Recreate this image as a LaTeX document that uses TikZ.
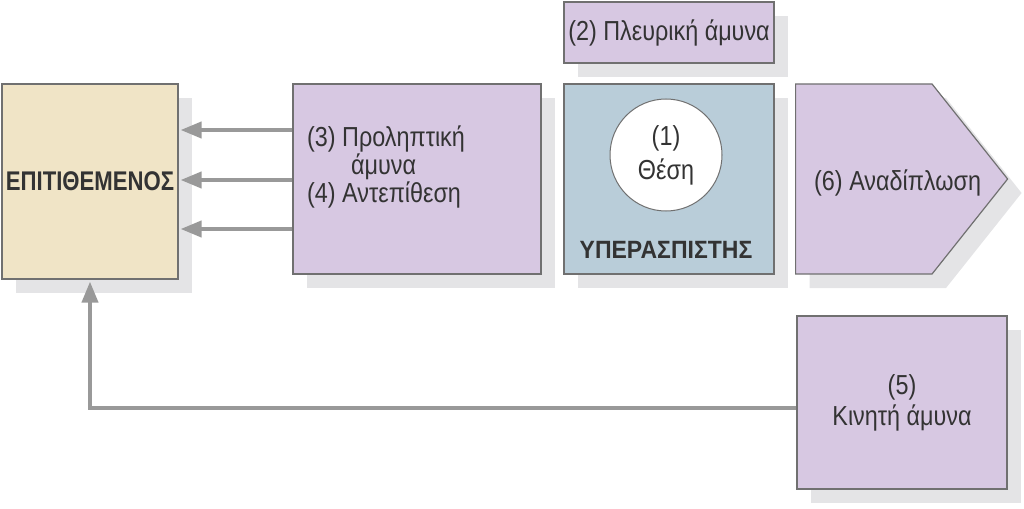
\documentclass[tikz,border=0pt]{standalone}
\usepackage{fontspec}
\setmainfont{Liberation Sans}[FakeStretch=0.85]
\newfontfamily\narrowA{Liberation Sans}[FakeStretch=0.82]
\newfontfamily\narrowB{Liberation Sans}[FakeStretch=0.92]
\usetikzlibrary{arrows.meta, positioning, shadows, shapes.symbols}
\definecolor{attackfill}{HTML}{F0E4C6}
\definecolor{lavender}{HTML}{D7C8E2}
\definecolor{defendfill}{HTML}{B9CDD9}
\definecolor{shade}{HTML}{E4E4E6}
\definecolor{edge}{HTML}{707070}
\definecolor{arrowgray}{HTML}{999999}
\definecolor{ink}{HTML}{333333}

\begin{document}
\begin{tikzpicture}[
  x=1pt, y=-1pt,
  font=\fontsize{27.5}{28}\selectfont, text=ink,
  box/.style={draw=edge, line width=1.2pt, inner sep=0pt,
              general shadow={fill=shade, shadow xshift=14pt, shadow yshift=-14pt}},
  plate/.style={box, fill=lavender},
  arr/.style={draw=arrowgray, line width=4pt,
              -{Triangle[length=21pt, width=16pt]}, shorten >=2pt}
]
\useasboundingbox (0,0) rectangle (1024,508);

% ================= attacker =================
\node[box, fill=attackfill, minimum width=176pt, minimum height=195pt] (attacker) at (90,181.5)
  {\narrowA\bfseries\fontsize{27}{30}\selectfont ΕΠΙΤΙΘΕΜΕΝΟΣ};

% ================= (3) + (4) =================
\node[plate, minimum width=248pt, minimum height=190pt] (preempt) at (417,179) {};
\node[anchor=north west, align=left, inner sep=0pt] (preempttxt) at (307,126)
  {(3) Προληπτική\\ \hspace*{44pt}άμυνα\\ (4) Αντεπίθεση};

% ================= defender + (1), (2) =================
\node[plate, minimum width=210pt, minimum height=61pt] (flank) at (669,32.5)
  {(2) Πλευρική άμυνα};
\node[box, fill=defendfill, minimum width=210pt, minimum height=190pt] (defender) at (669,179) {};
\node[circle, draw=edge, line width=1pt, fill=white, minimum size=112pt,
      inner sep=0pt, align=center] (position) at (666,155) {(1)\\[6pt]Θέση};
\node[font=\narrowB\bfseries\fontsize{25}{28}\selectfont] (deflabel) at (666,250)
  {ΥΠΕΡΑΣΠΙΣΤΗΣ};

% ================= (6) and (5) =================
\node[plate, signal, signal to=east, signal pointer angle=103, anchor=west,
      minimum width=212pt, minimum height=190pt] (fold) at (795,179) {};
\node[anchor=west, inner sep=0pt] (foldtxt) at (814,183) {(6) Αναδίπλωση};

\node[plate, minimum width=210pt, minimum height=173pt, align=center] (mobile) at (902,402.5)
  {(5)\\[3pt]Κινητή άμυνα};

% ================= connectors =================
\foreach \dy in {49,-1,-50} {
  \coordinate (src) at ([yshift=\dy pt]preempt.west);
  \draw[arr] (src) -- (src -| attacker.east);
}
\draw[arr] ([yshift=-5.5pt]mobile.west) -| (attacker.south);

\end{tikzpicture}
\end{document}
